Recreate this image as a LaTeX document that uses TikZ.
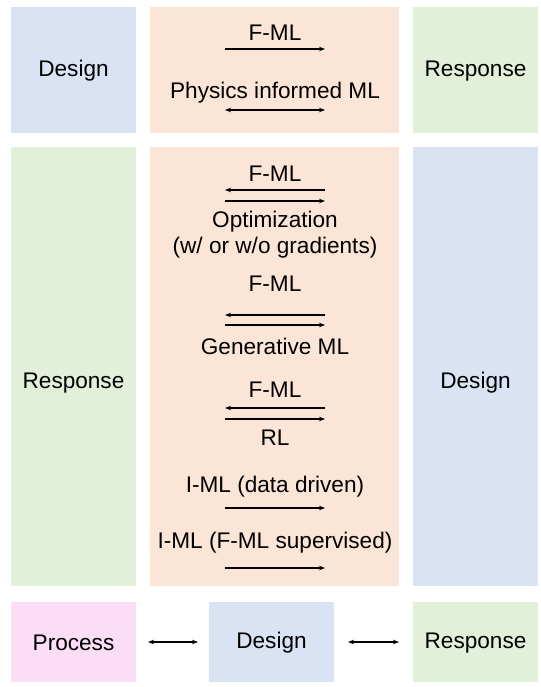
\documentclass[tikz,border=0pt]{standalone}
\usepackage{fontspec}
\setmainfont{Liberation Sans}
\usetikzlibrary{arrows.meta}
\definecolor{cblue}{HTML}{DAE3F3}
\definecolor{corange}{HTML}{FBE5D6}
\definecolor{cgreen}{HTML}{E2F0D9}
\definecolor{cpink}{HTML}{FCDDF6}
\tikzset{
  box/.style={draw=none,inner sep=0pt,outer sep=0pt,minimum width=#1},
  box/.default=125pt,
  lbl/.style={inner sep=0pt,font=\fontsize{22.6}{27}\selectfont},
  arr/.style={line width=1.2pt,-{Stealth[length=6pt,width=4.5pt]}},
  darr/.style={line width=1.2pt,{Stealth[length=6pt,width=4.5pt]}-{Stealth[length=6pt,width=4.5pt]}}
}
\begin{document}
\begin{tikzpicture}[x=1pt,y=-1pt]
\useasboundingbox (0,0) rectangle (540,687);
% top row
\node[box,fill=cblue,minimum height=126pt] (d1) at (73.5,70) {};
\node[box=249pt,fill=corange,minimum height=126pt] (ml1) at (274.5,70) {};
\node[box,fill=cgreen,minimum height=126pt] (r1) at (475.5,70) {};
\node[lbl] (td1) at (73.5,71) {Design};
\node[lbl] (tr1) at (475.5,71) {Response};
% middle row
\node[box,fill=cgreen,minimum height=439pt] (r2) at (73.5,366.5) {};
\node[box=249pt,fill=corange,minimum height=439pt] (ml2) at (274.5,366.5) {};
\node[box,fill=cblue,minimum height=439pt] (d2) at (475.5,366.5) {};
\node[lbl] (tr2) at (73.5,383) {Response};
\node[lbl] (td2) at (475.5,383) {Design};
% bottom row
\node[box,fill=cpink,minimum height=80pt] (p3) at (73.5,642) {};
\node[box,fill=cblue,minimum height=80pt] (d3) at (271.5,642) {};
\node[box,fill=cgreen,minimum height=80pt] (r3) at (475.5,642) {};
\node[lbl] (tp3) at (73.5,643) {Process};
\node[lbl] (td3) at (271.5,643) {Design};
\node[lbl] (tr3) at (475.5,643) {Response};
\draw[darr,shorten <=12pt,shorten >=11pt] (p3.east) -- (d3.west);
\draw[darr,shorten <=14pt,shorten >=14pt] (d3.east) -- (r3.west);
% top orange content
\node[lbl] (t1) at (275,33) {F-ML};
\coordinate (a1l) at (225,49); \coordinate (a1r) at (325,49);
\draw[arr] (a1l) -- (a1r);
\node[lbl] (t2) at (275,93) {Physics informed ML};
\coordinate (a2l) at (225,110); \coordinate (a2r) at (325,110);
\draw[darr] (a2l) -- (a2r);
% middle orange content
\node[lbl] (t3) at (275,174) {F-ML};
\coordinate (a3l) at (225,190); \coordinate (a3r) at (325,190);
\draw[arr] (a3r) -- (a3l);
\coordinate (a4l) at (225,201); \coordinate (a4r) at (325,201);
\draw[arr] (a4l) -- (a4r);
\node[lbl] (t4) at (275,222) {Optimization};
\node[lbl] (t5) at (275,248) {(w/ or w/o gradients)};
\node[lbl] (t6) at (275,284) {F-ML};
\coordinate (a5l) at (225,315); \coordinate (a5r) at (325,315);
\draw[arr] (a5r) -- (a5l);
\coordinate (a6l) at (225,325); \coordinate (a6r) at (325,325);
\draw[arr] (a6l) -- (a6r);
\node[lbl] (t7) at (275,346) {Generative ML};
\node[lbl] (t8) at (275,390) {F-ML};
\coordinate (a7l) at (225,408); \coordinate (a7r) at (325,408);
\draw[arr] (a7r) -- (a7l);
\coordinate (a8l) at (225,419); \coordinate (a8r) at (325,419);
\draw[arr] (a8l) -- (a8r);
\node[lbl] (t9) at (275,438) {RL};
\node[lbl] (t10) at (275,487) {I-ML (data driven)};
\coordinate (a9l) at (225,508); \coordinate (a9r) at (325,508);
\draw[arr] (a9l) -- (a9r);
\node[lbl] (t11) at (275,543) {I-ML (F-ML supervised)};
\coordinate (a10l) at (225,568); \coordinate (a10r) at (325,568);
\draw[arr] (a10l) -- (a10r);
\end{tikzpicture}
\end{document}
